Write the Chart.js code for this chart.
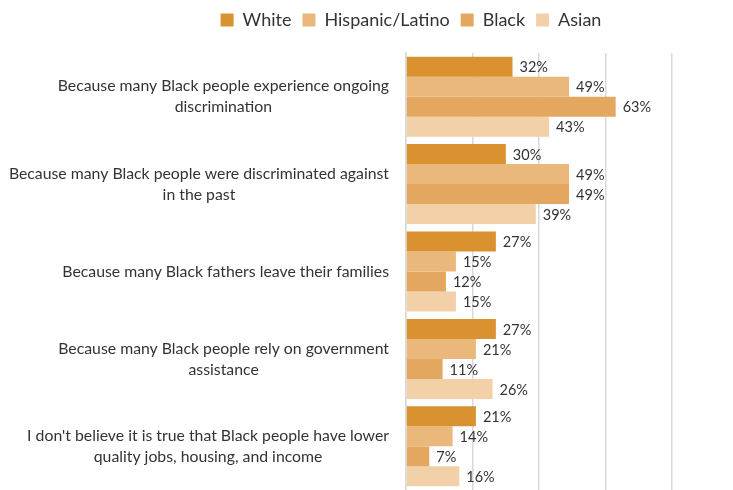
<!DOCTYPE html>
<html>
<head>
<meta charset="utf-8">
<script src="https://cdn.jsdelivr.net/npm/chart.js@4/dist/chart.umd.min.js"></script>
<style>
  body { margin: 0; background: #fff; }
  #wrap { width: 733px; height: 490px; overflow: hidden; }
  #box { width: 822px; height: 490px; }
</style>
</head>
<body>
<div id="wrap"><div id="box"><canvas id="myChart"></canvas></div></div>
<script>
// categorie e valori (%)
const categorie = [
  ['Because many Black people experience ongoing', 'discrimination'],
  ['Because many Black people were discriminated against', 'in the past'],
  ['Because many Black fathers leave their families'],
  ['Because many Black people rely on government', 'assistance'],
  ['I don\'t believe it is true that Black people have lower', 'quality jobs, housing, and income']
];
const white = [32, 30, 27, 27, 21];
const hispanic = [49, 49, 15, 21, 14];
const black = [63, 49, 12, 11, 7];
const asian = [43, 39, 15, 26, 16];

const FONT = 'Lato, "Open Sans", sans-serif';

// etichette dei valori alla fine delle barre
const etichette = {
  id: 'etichette',
  afterDatasetsDraw(chart) {
    const c = chart.ctx;
    c.save();
    c.font = '14.5px ' + FONT;
    c.fillStyle = '#333';
    c.textAlign = 'left';
    c.textBaseline = 'middle';
    chart.data.datasets.forEach((ds, i) => {
      chart.getDatasetMeta(i).data.forEach((bar, j) => {
        c.fillText(ds.data[j] + '%', bar.x + 7, bar.y + 1);
      });
    });
    c.restore();
  }
};

// categorie: allineate a destra, righe centrate fra loro (come Excel)
const categorieAsse = {
  id: 'categorieAsse',
  afterDraw(chart) {
    const y = chart.scales.y;
    const c = chart.ctx;
    const lh = 21;
    c.save();
    c.font = '15.8px ' + FONT;
    c.fillStyle = '#333';
    c.textAlign = 'center';
    c.textBaseline = 'middle';
    chart.data.labels.forEach((righe, i) => {
      const w = Math.max(...righe.map(r => c.measureText(r).width));
      const cx = y.right - 17 - w / 2;
      const cy = y.getPixelForTick(i);
      righe.forEach((r, k) => {
        c.fillText(r, cx, cy + (k - (righe.length - 1) / 2) * lh);
      });
    });
    c.restore();
  }
};

// spazio sotto la legenda
const spazioLegenda = {
  id: 'spazioLegenda',
  beforeInit(chart) {
    const fit = chart.legend.fit;
    chart.legend.fit = function () {
      fit.call(this);
      this.height = 53;
    };
  }
};

const ctx = document.getElementById('myChart');

new Chart(ctx, {
  type: 'bar',
  data: {
    labels: categorie,
    datasets: [
      { label: 'White', data: white, backgroundColor: 'rgb(218,145,48)' },
      { label: 'Hispanic/Latino', data: hispanic, backgroundColor: 'rgb(235,184,124)' },
      { label: 'Black', data: black, backgroundColor: 'rgb(228,167,95)' },
      { label: 'Asian', data: asian, backgroundColor: 'rgb(242,208,168)' }
    ]
  },
  options: {
    indexAxis: 'y',
    responsive: true,
    maintainAspectRatio: false,
    animation: false,
    datasets: { bar: { barPercentage: 1, categoryPercentage: 0.915 } },
    layout: { padding: 0 },
    plugins: {
      legend: {
        position: 'top',
        labels: {
          boxWidth: 13, boxHeight: 13, padding: 11,
          color: '#333',
          font: { family: FONT, size: 18 }
        }
      },
      tooltip: { enabled: false }
    },
    scales: {
      x: {
        min: 0, max: 125,
        ticks: { display: false, stepSize: 20 },
        grid: { color: '#d9d9d9', lineWidth: 1.5, drawTicks: false },
        border: { display: false }
      },
      y: {
        afterFit(scale) {
          scale.width = 406;
          scale.paddingTop = 0;
          scale.paddingBottom = 0;
        },
        ticks: { display: false },
        grid: { display: false },
        border: { color: '#d9d9d9', width: 1.5 }
      }
    }
  },
  plugins: [etichette, categorieAsse, spazioLegenda]
});
</script>
</body>
</html>
